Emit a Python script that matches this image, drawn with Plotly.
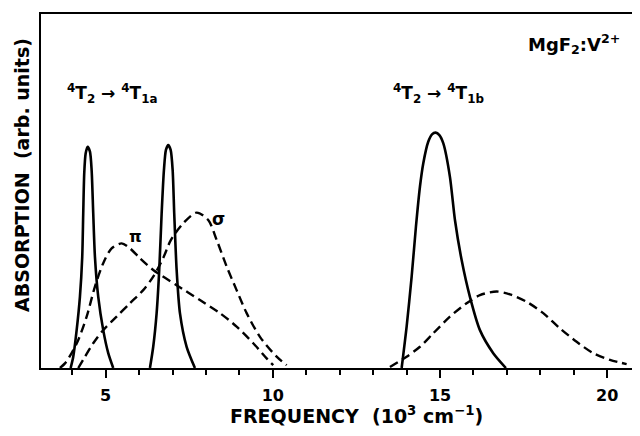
import plotly.graph_objects as go

# Solid curves (main absorption bands), x in 10^3 cm^-1, y arb. units
band1_x = [3.953, 4.031, 4.133, 4.231, 4.300, 4.330, 4.360, 4.402, 4.462, 4.531, 4.581, 4.629, 4.680, 4.779, 4.928, 5.078, 5.227]
band1_y = [0.0, 0.32, 1.07, 2.01, 3.14, 4.37, 5.50, 6.06, 6.25, 6.11, 5.59, 4.37, 3.14, 2.01, 1.07, 0.42, 0.0]

band2_x = [6.325, 6.423, 6.525, 6.603, 6.675, 6.743, 6.803, 6.872, 6.944, 7.004, 7.051, 7.123, 7.222, 7.422, 7.670]
band2_y = [0.0, 0.60, 1.55, 2.77, 4.37, 5.59, 6.16, 6.30, 6.16, 5.59, 4.37, 2.77, 1.55, 0.60, 0.0]

band3_x = [13.852, 14.001, 14.151, 14.279, 14.399, 14.498, 14.647, 14.760, 14.868, 14.980, 15.096, 15.296, 15.446, 15.646, 15.894, 16.193, 16.591, 16.970]
band3_y = [0.0, 1.17, 2.58, 3.99, 5.12, 5.78, 6.39, 6.60, 6.65, 6.58, 6.35, 5.40, 4.18, 3.05, 2.01, 1.07, 0.42, 0.0]

# Dashed curves (polarized spectra)
pi_x = [3.633, 3.783, 3.983, 4.181, 4.432, 4.680, 4.928, 5.179, 5.478, 5.727, 6.026, 6.423, 7.123, 7.820, 8.418, 8.917, 9.414, 9.815, 10.012]
pi_y = [0.0, 0.13, 0.42, 0.79, 1.45, 2.30, 2.96, 3.38, 3.52, 3.38, 3.10, 2.77, 2.34, 1.92, 1.55, 1.17, 0.70, 0.27, 0.08]

sigma_x = [4.181, 4.381, 4.629, 4.928, 5.329, 5.727, 6.124, 6.423, 6.722, 6.953, 7.321, 7.721, 8.068, 8.319, 8.618, 8.917, 9.217, 9.615, 10.114, 10.413]
sigma_y = [0.0, 0.32, 0.70, 1.07, 1.45, 1.83, 2.20, 2.58, 3.11, 3.62, 4.09, 4.39, 4.18, 3.62, 2.87, 2.20, 1.55, 0.88, 0.32, 0.08]

b_x = [13.502, 14.001, 14.399, 14.797, 15.296, 15.795, 16.193, 16.692, 17.089, 17.589, 18.086, 18.585, 19.085, 19.581, 20.081, 20.580]
b_y = [0.03, 0.32, 0.60, 0.98, 1.45, 1.83, 2.06, 2.16, 2.08, 1.87, 1.55, 1.12, 0.74, 0.42, 0.23, 0.11]

tick_vals = [5, 10, 15, 20]
tick_text = ["5", "10", "15", "20"]

x_title = "FREQUENCY  (10<sup>3</sup> cm<sup>\u22121</sup>)"
y_title = "ABSORPTION  (arb. units)"

FONT = "DejaVu Sans"
fig = go.Figure()

solid = dict(color="black", width=2.6)
dashed = dict(color="black", width=2.4, dash="9px,5px")

for xs, ys in [(band1_x, band1_y), (band2_x, band2_y), (band3_x, band3_y)]:
    fig.add_trace(go.Scatter(x=xs, y=ys, mode="lines", line=dict(**solid, shape="spline", smoothing=0.7),
                             showlegend=False, hoverinfo="skip"))
for xs, ys in [(pi_x, pi_y), (sigma_x, sigma_y), (b_x, b_y)]:
    fig.add_trace(go.Scatter(x=xs, y=ys, mode="lines", line=dict(**dashed, shape="spline", smoothing=0.8),
                             showlegend=False, hoverinfo="skip"))

annots = [
    dict(x=5.2, y=7.75, text="<sup>4</sup>T<sub>2</sub> \u2192 <sup>4</sup>T<sub>1a</sub>", size=17),
    dict(x=14.95, y=7.75, text="<sup>4</sup>T<sub>2</sub> \u2192 <sup>4</sup>T<sub>1b</sub>", size=17),
    dict(x=19.0, y=9.15, text="MgF<sub>2</sub>:V<sup>2+</sup>", size=18),
    dict(x=5.88, y=3.72, text="\u03c0", size=16),
    dict(x=8.37, y=4.2, text="\u03c3", size=17),
]
for a in annots:
    fig.add_annotation(x=a["x"], y=a["y"], text=a["text"], showarrow=False,
                       font=dict(family=FONT, size=a["size"], color="black", weight="bold"))

# axis titles placed as in the reference (slightly off-centre)
fig.add_annotation(xref="paper", yref="paper", x=0.528, y=-0.133, text=x_title, showarrow=False,
                   xanchor="center", yanchor="middle",
                   font=dict(family=FONT, size=19, color="black", weight="bold"))
fig.add_annotation(xref="paper", yref="paper", x=-0.032, y=0.545, text=y_title, showarrow=False,
                   textangle=-90, xanchor="center", yanchor="middle",
                   font=dict(family=FONT, size=19, color="black", weight="bold"))

# page body has an 8px default margin; size/margins compensate so the plot box lands where the reference has it
fig.update_layout(
    width=632, height=428,
    margin=dict(l=33, r=2, t=6, b=68),
    paper_bgcolor="white", plot_bgcolor="white",
    font=dict(family=FONT, color="black"),
    showlegend=False,
)
fig.update_xaxes(
    range=[3.067, 20.92], showgrid=False, zeroline=False,
    showline=True, linecolor="black", linewidth=2, mirror=True,
    ticks="outside", ticklen=8, tickwidth=2, tickcolor="black",
    tickvals=tick_vals, ticktext=tick_text, ticklabelstandoff=4,
    tickfont=dict(family=FONT, size=16, color="black", weight="bold"),
    minor=dict(dtick=1, tick0=0, ticks="outside", ticklen=5, tickwidth=1.5, tickcolor="black"),
)
fig.update_yaxes(
    range=[0, 10], showgrid=False, zeroline=False,
    showline=True, linecolor="black", linewidth=2,
    ticks="", showticklabels=False,
)

fig.write_html("out.html")
